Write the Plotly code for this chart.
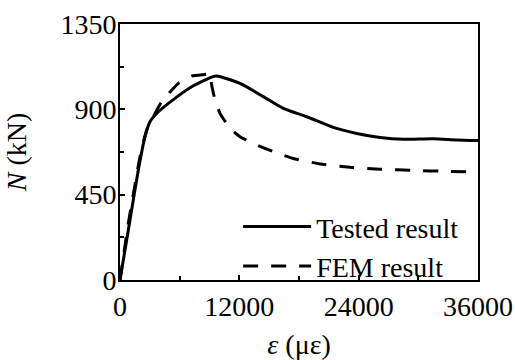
import plotly.graph_objects as go

# Tested result (strain in microstrain, load in kN)
tested_x = [0, 1006, 1843, 2514, 3017, 3855, 5531, 7207, 9218, 9720, 12067,
            14410, 16422, 18770, 21453, 23800, 26146, 28490, 31506, 33857, 36000]
tested_y = [0, 316, 580, 756, 835, 887, 958, 1019, 1070, 1076, 1037,
            967, 905, 861, 805, 773, 752, 742, 745, 738, 735]

# FEM result
fem_x = [0, 838, 2011, 2682, 4190, 5866, 7207, 8882, 9050, 9218, 9553, 10056,
         11061, 12067, 13743, 15419, 17427, 20112, 23129, 26146, 29494, 32847, 36000]
fem_y = [0, 299, 650, 791, 940, 1037, 1076, 1086, 1090, 1028, 949, 879,
         800, 756, 712, 677, 641, 612, 594, 584, 578, 573, 570]

x_ticks = [0, 12000, 24000, 36000]
y_ticks = [0, 450, 900, 1350]

FONT = "'Liberation Serif', 'Times New Roman', serif"
FS = 28

fig = go.Figure()
fig.add_trace(go.Scatter(x=tested_x, y=tested_y, mode="lines", name="Tested result",
                         line=dict(color="black", width=3, shape="spline", smoothing=0.6)))
fig.add_trace(go.Scatter(x=fem_x, y=fem_y, mode="lines", name="FEM result",
                         line=dict(color="black", width=3, dash="15px,13px",
                                   shape="spline", smoothing=0.4)))

axis_common = dict(showline=True, linecolor="black", linewidth=2, mirror=True,
                   ticks="inside", ticklen=5, tickwidth=1.5, tickcolor="black",
                   showgrid=False, zeroline=False, automargin=False,
                   tickfont=dict(family=FONT, size=FS, color="black"))

fig.update_layout(
    width=515, height=360,
    margin=dict(l=120, r=37, t=24, b=80),
    plot_bgcolor="white", paper_bgcolor="white",
    font=dict(family=FONT, color="black"),
    xaxis=dict(range=[0, 36000], tickvals=x_ticks, ticktext=[str(v) for v in x_ticks],
               minor=dict(ticks="inside", dtick=6000, tick0=0, ticklen=4, tickwidth=1.5,
                          tickcolor="black", showgrid=False),
               title=dict(text="<i>ε</i> (με)", font=dict(family=FONT, size=FS), standoff=20),
               **axis_common),
    yaxis=dict(range=[0, 1350], tickvals=y_ticks, ticktext=[str(v) for v in y_ticks],
               ticklabelstandoff=-4,
               minor=dict(ticks="inside", dtick=225, tick0=0, ticklen=4, tickwidth=1.5,
                          tickcolor="black", showgrid=False),
               title=dict(text="<i>N</i> (kN)", font=dict(family=FONT, size=FS), standoff=26),
               **axis_common),
    legend=dict(x=0.33, y=0.305, xanchor="left", yanchor="top",
                bgcolor="rgba(0,0,0,0)", itemwidth=68,
                font=dict(family=FONT, size=FS, color="black"),
                tracegroupgap=0),
    showlegend=True,
)

fig.write_html("out.html")
